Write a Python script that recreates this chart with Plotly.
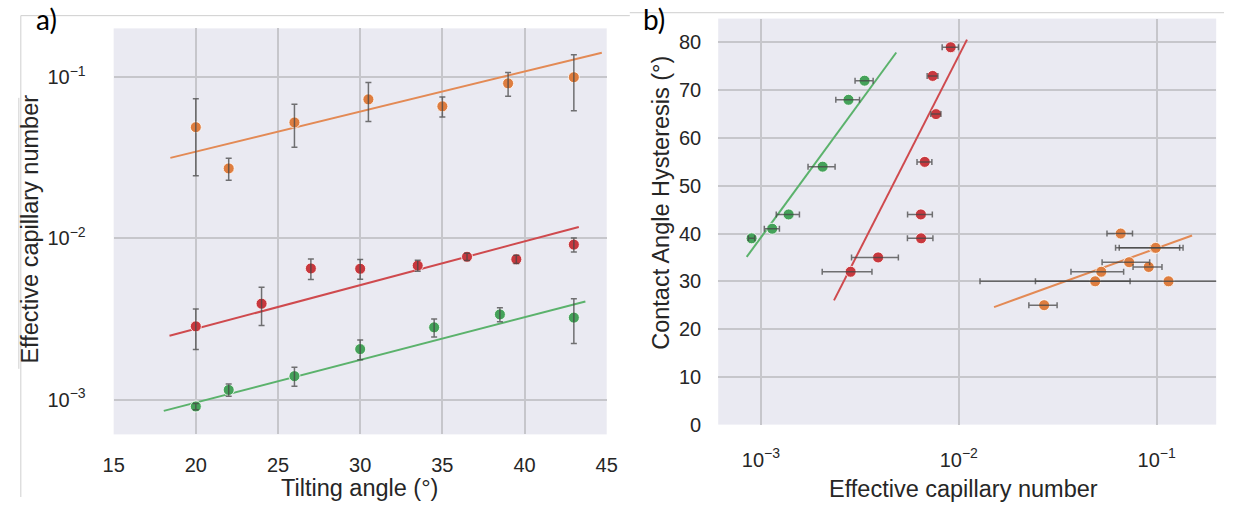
import plotly.graph_objects as go

# ---------------- Panel a data ----------------
angle_orange = [20, 22, 26, 30.5, 35, 39, 43]
ca_orange = [0.049, 0.0272, 0.0524, 0.0729, 0.066, 0.0916, 0.100]
err_orange = [0.0245, 0.0042, 0.0156, 0.0198, 0.0094, 0.0153, 0.038]

angle_red = [20, 24, 27, 30, 33.5, 36.5, 39.5, 43]
ca_red = [0.00285, 0.00394, 0.00652, 0.00649, 0.00679, 0.0077, 0.00743, 0.00916]
err_red = [0.0008, 0.00105, 0.00095, 0.00091, 0.00053, 0.0004, 0.00043, 0.00092]

angle_green = [20, 22, 26, 30, 34.5, 38.5, 43]
ca_green = [0.000908, 0.00115, 0.0014, 0.00206, 0.00281, 0.00338, 0.00323]
err_green = [0.00004, 0.0001, 0.00019, 0.00029, 0.00036, 0.00034, 0.001]

fit_angle_orange = [18.45, 44.7]
fit_ca_orange = [0.0316, 0.142]
fit_angle_red = [18.4, 43.3]
fit_ca_red = [0.00249, 0.01178]
fit_angle_green = [18.05, 43.7]
fit_ca_green = [0.000853, 0.00407]

# ---------------- Panel b data ----------------
b_ca_green = [0.00334, 0.00277, 0.00205, 0.00138, 0.00114, 0.000897]
b_cah_green = [72, 68, 54, 44, 41, 39]
b_err_green = [0.00035, 0.00038, 0.00032, 0.000185, 0.0001, 0.000033]

b_ca_red = [0.0091, 0.00738, 0.00767, 0.00673, 0.00643, 0.00645, 0.00391, 0.00284]
b_cah_red = [79, 73, 65, 55, 44, 39, 35, 32]
b_err_red = [0.00086, 0.00046, 0.00045, 0.00058, 0.00092, 0.00095, 0.00104, 0.0008]

b_ca_orange = [0.0658, 0.0977, 0.099, 0.0726, 0.0912, 0.0525, 0.0489, 0.1148, 0.027]
b_cah_orange = [40, 37, 37, 34, 33, 32, 30, 30, 25]
b_err_orange = [0.0097, 0.033, 0.037, 0.0196, 0.0152, 0.0156, 0.0245, 0.102, 0.0044]

b_fit_ca_green = [0.000847, 0.00483]
b_fit_cah_green = [35.1, 77.9]
b_fit_ca_red = [0.00234, 0.0110]
b_fit_cah_red = [26, 80.6]
b_fit_ca_orange = [0.01507, 0.151]
b_fit_cah_orange = [24.6, 39.6]

log_ticks = [0.001, 0.01, 0.1]
log_ticktext = ["10<sup>−3</sup>", "10<sup>−2</sup>", "10<sup>−1</sup>"]
angle_ticks = [15, 20, 25, 30, 35, 40, 45]
cah_ticks = [0, 10, 20, 30, 40, 50, 60, 70, 80]

# ---------------- styles ----------------
W, H = 1238, 508
BG = "#EAEAF2"
GRID = "#C6C6CB"
TXT = "#262626"
ERR = "rgba(70,70,70,0.75)"
DOT = {"orange": "#DE7D3F", "red": "#C8383E", "green": "#45A25A"}
LINE = {"orange": "#E38A55", "red": "#CF4A4E", "green": "#5BB26C"}
FONT = "Liberation Sans, Arial, sans-serif"

fig = go.Figure()


def add_series(x, y, err, color, xa, ya, horizontal=False):
    fig.add_trace(go.Scatter(
        x=x, y=y, mode="markers", xaxis=xa, yaxis=ya, showlegend=False,
        marker=dict(size=11, color=DOT[color], line=dict(color="white", width=0.8)),
    ))
    e = dict(type="data", array=err, visible=True, color=ERR, thickness=1.5, width=3)
    kw = {"error_x": e} if horizontal else {"error_y": e}
    fig.add_trace(go.Scatter(
        x=x, y=y, mode="markers", xaxis=xa, yaxis=ya, showlegend=False,
        marker=dict(size=1, color="rgba(0,0,0,0)"), **kw,
    ))


def add_fit(x, y, color, xa, ya):
    fig.add_trace(go.Scatter(
        x=x, y=y, mode="lines", xaxis=xa, yaxis=ya, showlegend=False,
        line=dict(color=LINE[color], width=2),
    ))


# panel a
add_fit(fit_angle_orange, fit_ca_orange, "orange", "x", "y")
add_fit(fit_angle_red, fit_ca_red, "red", "x", "y")
add_fit(fit_angle_green, fit_ca_green, "green", "x", "y")
add_series(angle_orange, ca_orange, err_orange, "orange", "x", "y")
add_series(angle_red, ca_red, err_red, "red", "x", "y")
add_series(angle_green, ca_green, err_green, "green", "x", "y")

# panel b
add_fit(b_fit_ca_green, b_fit_cah_green, "green", "x2", "y2")
add_fit(b_fit_ca_red, b_fit_cah_red, "red", "x2", "y2")
add_fit(b_fit_ca_orange, b_fit_cah_orange, "orange", "x2", "y2")
add_series(b_ca_green, b_cah_green, b_err_green, "green", "x2", "y2", horizontal=True)
add_series(b_ca_red, b_cah_red, b_err_red, "red", "x2", "y2", horizontal=True)
add_series(b_ca_orange, b_cah_orange, b_err_orange, "orange", "x2", "y2", horizontal=True)


def px_x(p):
    return p / W


def px_y(p):
    return 1 - p / H


axis_common = dict(
    showline=False, ticks="", zeroline=False, showgrid=True,
    gridcolor=GRID, gridwidth=1.5,
    tickfont=dict(family=FONT, size=20, color=TXT),
)

fig.update_layout(
    width=W, height=H, margin=dict(l=0, r=0, t=0, b=0),
    paper_bgcolor="white", plot_bgcolor=BG,
    xaxis=dict(domain=[px_x(104.5), px_x(606.5)], range=[15, 45], anchor="y",
               tickvals=angle_ticks, ticklabelstandoff=17, **axis_common),
    yaxis=dict(domain=[px_y(444), px_y(29)], type="log", range=[-3.215, -0.697], anchor="x",
               tickvals=log_ticks, ticktext=log_ticktext, ticklabelstandoff=27, **axis_common),
    xaxis2=dict(domain=[px_x(720), px_x(1227)], type="log", range=[-3.216, -0.699], anchor="y2",
                tickvals=log_ticks, ticktext=log_ticktext, ticklabelstandoff=21, **axis_common),
    yaxis2=dict(domain=[px_y(434), px_y(19)], range=[0, 85], anchor="x2",
                tickvals=cah_ticks, ticklabelstandoff=16, **axis_common),
)

title_font = dict(family=FONT, size=23.5, color=TXT)
ann = dict(xref="paper", yref="paper", showarrow=False, xanchor="center", yanchor="middle")
fig.add_annotation(text="Tilting angle (°)", x=px_x(355), y=px_y(499), font=title_font, **ann)
fig.add_annotation(text="Effective capillary number", x=px_x(19), y=px_y(234),
                   font=title_font, textangle=-90, **ann)
fig.add_annotation(text="Effective capillary number", x=px_x(970), y=px_y(500), font=title_font, **ann)
fig.add_annotation(text="Contact Angle Hysteresis (°)", x=px_x(661), y=px_y(207),
                   font=title_font, textangle=-90, **ann)

label_font = dict(family="Lato, Open Sans, sans-serif", size=28, color="black")
fig.add_annotation(text="a)", x=px_x(36), y=px_y(19), font=label_font, **ann)
fig.add_annotation(text="b)", x=px_x(655), y=px_y(19), font=label_font, **ann)

# thin frame lines of the composite figure
frame = dict(color="#CFCFCF", width=1)
for (x0, y0, x1, y1) in [(10, 16, 630, 16), (10, 16, 10, 508),
                         (8, 100, 8, 377), (630, 13, 1235, 13)]:
    fig.add_shape(type="line", xref="paper", yref="paper", layer="below",
                  x0=px_x(x0), y0=px_y(y0), x1=px_x(x1), y1=px_y(y1), line=frame)

fig.write_html("out.html")
